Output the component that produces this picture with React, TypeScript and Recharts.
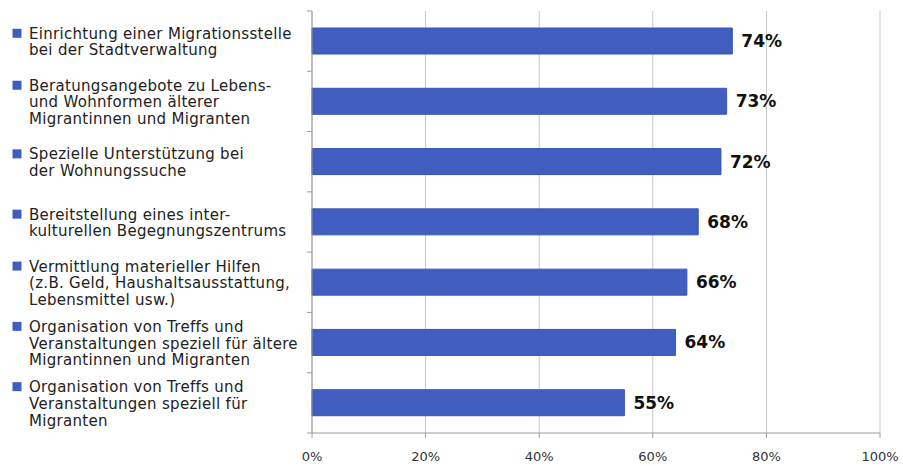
import { BarChart, Bar, XAxis, YAxis, CartesianGrid, LabelList } from 'recharts'

const labels: string[][] = [
  ['Einrichtung einer Migrationsstelle', 'bei der Stadtverwaltung'],
  ['Beratungsangebote zu Lebens-', 'und Wohnformen älterer', 'Migrantinnen und Migranten'],
  ['Spezielle Unterstützung bei', 'der Wohnungssuche'],
  ['Bereitstellung eines inter-', 'kulturellen Begegnungszentrums'],
  ['Vermittlung materieller Hilfen', '(z.B. Geld, Haushaltsausstattung,', 'Lebensmittel usw.)'],
  ['Organisation von Treffs und', 'Veranstaltungen speziell für ältere', 'Migrantinnen und Migranten'],
  ['Organisation von Treffs und', 'Veranstaltungen speziell für', 'Migranten'],
]
const values = [74, 73, 72, 68, 66, 64, 55]
const xTicks = [0, 20, 40, 60, 80, 100]

const data = labels.map((l, i) => ({ name: l.join(' '), value: values[i] }))

const FONT = '"DejaVu Sans", Verdana, sans-serif'
const BAR = '#3f5ec0'
const LINE_H = 16.7

function CategoryTick(props: any) {
  const { x, y, payload, index } = props
  const lines = labels[index] ?? [String(payload.value)]
  const half = payload.offset ?? 30
  const first = y - ((lines.length - 1) / 2) * LINE_H + 6
  return (
    <g>
      <line x1={x - 5} x2={x} y1={y - half} y2={y - half} stroke="#9a9a9a" />
      {index === labels.length - 1 && (
        <line x1={x - 5} x2={x} y1={y + half} y2={y + half} stroke="#9a9a9a" />
      )}
      <rect x={12.5} y={first - 10} width={9} height={9} fill={BAR} />
      <text fontFamily={FONT} fontSize={15} letterSpacing={0.3} fill="#222">
        {lines.map((t, i) => (
          <tspan key={i} x={29} y={first + i * LINE_H}>
            {t}
          </tspan>
        ))}
      </text>
    </g>
  )
}

export default function App() {
  return (
    <div style={{ position: 'absolute', left: 0, top: 0, width: 903, height: 466, background: '#fff' }}>
      <BarChart
        width={903}
        height={466}
        data={data}
        layout="vertical"
        margin={{ top: 11, right: 23, bottom: 0, left: 0 }}
      >
        <CartesianGrid horizontal={false} stroke="#c8c8c8" />
        <XAxis
          type="number"
          domain={[0, 100]}
          ticks={xTicks}
          height={33}
          tickFormatter={(v) => `${v}%`}
          tickSize={5}
          tickMargin={14}
          axisLine={{ stroke: '#9a9a9a' }}
          tickLine={{ stroke: '#9a9a9a' }}
          tick={{ fontFamily: FONT, fontSize: 13, fill: '#333' }}
        />
        <YAxis
          type="category"
          dataKey="name"
          width={312}
          tickSize={0}
          tickMargin={0}
          tickLine={false}
          axisLine={{ stroke: '#9a9a9a' }}
          interval={0}
          tick={<CategoryTick />}
        />
        <Bar dataKey="value" fill={BAR} stroke="#3a56b4" barSize={26} isAnimationActive={false}>
          <LabelList
            dataKey="value"
            position="right"
            offset={9}
            formatter={(v: any) => `${v}%`}
            style={{ fontFamily: FONT, fontSize: 17, fontWeight: 'bold', fill: '#111' }}
          />
        </Bar>
      </BarChart>
    </div>
  )
}
